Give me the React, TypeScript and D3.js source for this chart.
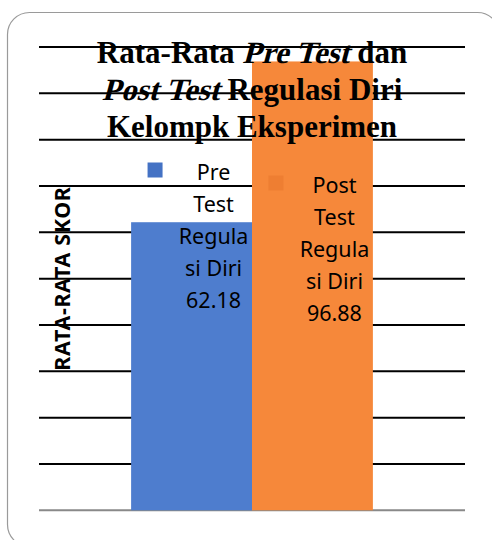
import { useEffect, useRef } from "react";
import * as d3 from "d3";

const categories = ["Regulasi Diri"];
const seriesNames = ["Pre Test Regulasi Diri", "Post Test Regulasi Diri"];
const seriesValues = [62.18, 96.88];
const yTicks = [10, 20, 30, 40, 50, 60, 70, 80, 90, 100];
const labelLines = [
  ["Pre", "Test", "Regula", "si Diri", "62.18"],
  ["Post", "Test", "Regula", "si Diri", "96.88"],
];
const titleLines = [
  [
    { t: "Rata-Rata ", it: false },
    { t: "Pre Test", it: true },
    { t: " dan", it: false },
  ],
  [
    { t: "Post Test", it: true },
    { t: " Regulasi Diri", it: false },
  ],
  [{ t: "Kelompk Eksperimen", it: false }],
];
const barColors = ["#4E7DCE", "#F6883A"];
const keyColors = ["#4472C4", "#EE7E32"];

export default function App() {
  const ref = useRef<SVGSVGElement>(null);

  useEffect(() => {
    document.body.style.margin = "0";
    const width = 492;
    const height = 540;
    const margin = { top: 47, right: 27, bottom: 29.7, left: 39 };

    const svg = d3.select(ref.current);
    svg.selectAll("*").remove();
    svg.attr("viewBox", `0 0 ${width} ${height}`);

    svg
      .append("rect")
      .attr("x", 7.5)
      .attr("y", 12.5)
      .attr("width", 492)
      .attr("height", 534)
      .attr("rx", 22)
      .attr("fill", "#fff")
      .attr("stroke", "#9a9a9a")
      .attr("stroke-width", 1.2);

    const x = d3
      .scaleBand()
      .domain(categories)
      .range([margin.left, width - margin.right])
      .paddingInner(0)
      .paddingOuter(0.381);

    const xs = d3
      .scaleBand()
      .domain(seriesNames)
      .range([0, x.bandwidth()])
      .padding(0);

    const y = d3
      .scaleLinear()
      .domain([0, 100])
      .range([height - margin.bottom, margin.top]);

    // gridlines
    svg
      .append("g")
      .selectAll("line")
      .data(yTicks)
      .join("line")
      .attr("x1", margin.left)
      .attr("x2", width - margin.right)
      .attr("y1", (d) => y(d))
      .attr("y2", (d) => y(d))
      .attr("stroke", "#000")
      .attr("stroke-width", 2);

    svg
      .append("line")
      .attr("x1", margin.left)
      .attr("x2", width - margin.right)
      .attr("y1", y(0))
      .attr("y2", y(0))
      .attr("stroke", "#898989")
      .attr("stroke-width", 2);

    const rows = seriesNames.map((name, i) => ({ name, value: seriesValues[i], i }));
    const bx = (d) => x(categories[0])! + xs(d.name)!;

    svg
      .append("g")
      .selectAll("rect")
      .data(rows)
      .join("rect")
      .attr("x", bx)
      .attr("y", (d) => y(d.value))
      .attr("width", xs.bandwidth())
      .attr("height", (d) => y(0) - y(d.value))
      .attr("fill", (d) => barColors[d.i]);

    // data labels with legend keys
    const labelTop = [179.5, 192.5];
    const lineGap = 32.1;
    rows.forEach((d) => {
      const cx = bx(d) + xs.bandwidth() / 2;
      svg
        .append("rect")
        .attr("x", cx - 44)
        .attr("y", labelTop[d.i] - 17)
        .attr("width", 15)
        .attr("height", 15)
        .attr("fill", keyColors[d.i]);
      svg
        .append("text")
        .attr("font-family", "'Noto Sans', sans-serif")
        .attr("font-size", 21.5)
        .attr("fill", "#000")
        .attr("text-anchor", "middle")
        .selectAll("tspan")
        .data(labelLines[d.i])
        .join("tspan")
        .attr("x", cx + 22)
        .attr("y", (_, k) => labelTop[d.i] + k * lineGap)
        .text((t) => t);
    });

    // y axis title
    svg
      .append("text")
      .attr("transform", `translate(69.5,${(y(0) + y(100)) / 2}) rotate(-90)`)
      .attr("text-anchor", "middle")
      .attr("font-family", "'Noto Sans', sans-serif")
      .attr("font-weight", "bold")
      .attr("font-size", 21.5)
      .attr("letter-spacing", 0.6)
      .attr("fill", "#000")
      .text("RATA-RATA SKOR");

    // title: parts laid out by measured width, italic parts slanted
    const cxTitle = (margin.left + width - margin.right) / 2;
    titleLines.forEach((parts, k) => {
      const by = 63 + k * 36.8;
      const g = svg.append("g");
      const nodes = parts.map((p) =>
        g
          .append("text")
          .attr("font-family", "'Liberation Serif', 'Times New Roman', serif")
          .attr("font-weight", "bold")
          .attr("font-size", 31)
          .attr("fill", "#000")
          .attr("xml:space", "preserve")
          .style("white-space", "pre")
          .text(p.t),
      );
      const widths = nodes.map((n) => (n.node() as SVGTextElement).getComputedTextLength());
      const total = d3.sum(widths);
      let px = cxTitle - total / 2;
      nodes.forEach((n, j) => {
        const tf = parts[j].it
          ? `translate(${px},${by}) skewX(-15)`
          : `translate(${px},${by})`;
        n.attr("transform", tf);
        px += widths[j];
      });
    });
  }, []);

  return <svg ref={ref} width={492} height={540} style={{ display: "block" }} />;
}
